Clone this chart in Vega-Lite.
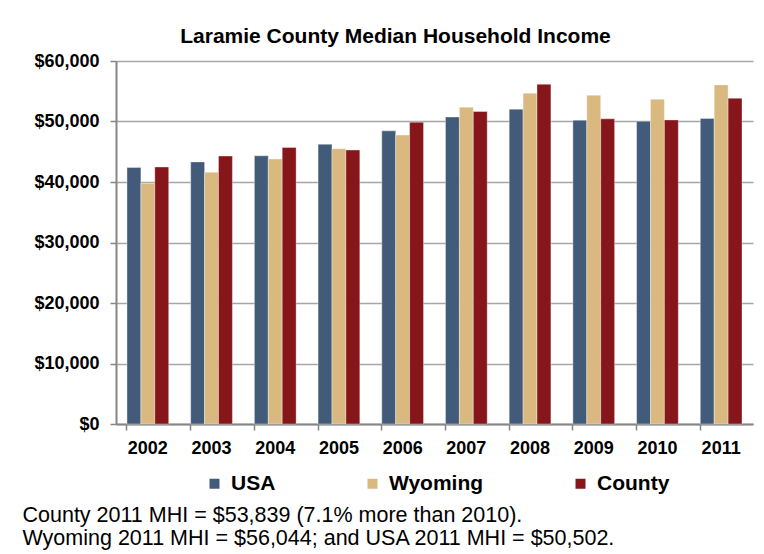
{
  "$schema": "https://vega.github.io/schema/vega-lite/v6.json",
  "autosize": {"type": "none"},
  "padding": {"left": 116, "top": 61, "right": 11, "bottom": 130},
  "width": 637,
  "height": 363,
  "background": "#ffffff",
  "title": {
    "text": "Laramie County Median Household Income",
    "font": "Liberation Sans",
    "fontSize": 21,
    "fontWeight": "bold",
    "color": "#000000",
    "anchor": "middle",
    "frame": "bounds",
    "baseline": "alphabetic",
    "offset": -12,
    "dx": 8
  },
  "data": {
    "values": [
      {"year": "2002", "series": "USA", "value": 42409},
      {"year": "2003", "series": "USA", "value": 43318},
      {"year": "2004", "series": "USA", "value": 44334},
      {"year": "2005", "series": "USA", "value": 46242},
      {"year": "2006", "series": "USA", "value": 48451},
      {"year": "2007", "series": "USA", "value": 50740},
      {"year": "2008", "series": "USA", "value": 52029},
      {"year": "2009", "series": "USA", "value": 50221},
      {"year": "2010", "series": "USA", "value": 50046},
      {"year": "2011", "series": "USA", "value": 50502},
      {"year": "2002", "series": "Wyoming", "value": 39785},
      {"year": "2003", "series": "Wyoming", "value": 41600},
      {"year": "2004", "series": "Wyoming", "value": 43800},
      {"year": "2005", "series": "Wyoming", "value": 45500},
      {"year": "2006", "series": "Wyoming", "value": 47750},
      {"year": "2007", "series": "Wyoming", "value": 52360},
      {"year": "2008", "series": "Wyoming", "value": 54670},
      {"year": "2009", "series": "Wyoming", "value": 54340},
      {"year": "2010", "series": "Wyoming", "value": 53680},
      {"year": "2011", "series": "Wyoming", "value": 56044},
      {"year": "2002", "series": "County", "value": 42480},
      {"year": "2003", "series": "County", "value": 44290},
      {"year": "2004", "series": "County", "value": 45710},
      {"year": "2005", "series": "County", "value": 45280},
      {"year": "2006", "series": "County", "value": 49890},
      {"year": "2007", "series": "County", "value": 51650},
      {"year": "2008", "series": "County", "value": 56150},
      {"year": "2009", "series": "County", "value": 50440},
      {"year": "2010", "series": "County", "value": 50260},
      {"year": "2011", "series": "County", "value": 53839}
    ]
  },
  "mark": {"type": "bar", "stroke": "#ffffff", "strokeWidth": 0.6, "strokeOpacity": 0.6},
  "encoding": {
    "x": {
      "field": "year",
      "type": "nominal",
      "scale": {"paddingInner": 0.345, "paddingOuter": 0.1725},
      "axis": {
        "labelAngle": 0,
        "labelFont": "Liberation Sans",
        "labelFontSize": 18,
        "labelFontWeight": "bold",
        "labelColor": "#000000",
        "labelPadding": 9,
        "tickSize": 6,
        "tickColor": "#868686",
        "tickWidth": 1.5,
        "bandPosition": 0,
        "domainColor": "#868686",
        "domainWidth": 2,
        "grid": false,
        "title": ["County 2011 MHI = $53,839 (7.1% more than 2010).", "Wyoming 2011 MHI = $56,044; and USA 2011 MHI = $50,502."],
        "titleFont": "Liberation Sans",
        "titleFontSize": 21.5,
        "titleFontWeight": "normal",
        "titleColor": "#000000",
        "titleAnchor": "start",
        "titleAlign": "left",
        "titleBaseline": "alphabetic",
        "titleLineHeight": 23,
        "titleX": -94,
        "titleY": 97
      }
    },
    "xOffset": {
      "field": "series",
      "type": "nominal",
      "sort": ["USA", "Wyoming", "County"],
      "scale": {"paddingInner": 0, "paddingOuter": 0}
    },
    "y": {
      "field": "value",
      "type": "quantitative",
      "scale": {"domain": [0, 60000], "nice": false},
      "axis": {
        "values": [0, 10000, 20000, 30000, 40000, 50000, 60000],
        "format": "$,.0f",
        "title": null,
        "labelFont": "Liberation Sans",
        "labelFontSize": 18,
        "labelFontWeight": "bold",
        "labelColor": "#000000",
        "labelPadding": 11,
        "tickSize": 6,
        "tickColor": "#868686",
        "tickWidth": 1.5,
        "domainColor": "#868686",
        "domainWidth": 2,
        "gridColor": "#a6a6a6",
        "gridWidth": 1.5
      }
    },
    "color": {
      "field": "series",
      "type": "nominal",
      "scale": {"domain": ["USA", "Wyoming", "County"], "range": ["#435b7a", "#d9b97f", "#861619"]},
      "legend": {
        "title": null,
        "orient": "none",
        "direction": "horizontal",
        "gridAlign": "each",
        "legendX": 88,
        "legendY": 412,
        "symbolType": "square",
        "symbolSize": 100,
        "symbolStrokeWidth": 0,
        "labelFont": "Liberation Sans",
        "labelFontSize": 21,
        "labelFontWeight": "bold",
        "labelColor": "#000000",
        "labelOffset": 6,
        "columnPadding": 86,
        "padding": 0
      }
    }
  },
  "config": {
    "view": {"stroke": null},
    "font": "Liberation Sans"
  }
}
